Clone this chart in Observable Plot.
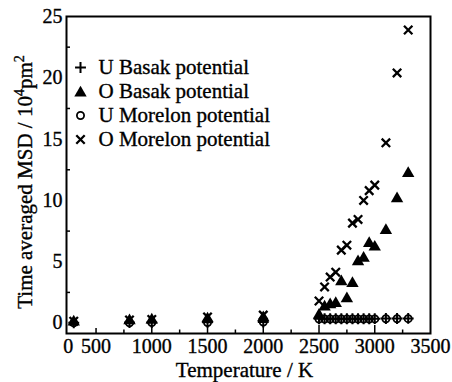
<!DOCTYPE html>
<html><head><meta charset="utf-8">
<script src="https://cdn.jsdelivr.net/npm/d3@7"></script>
<script src="https://cdn.jsdelivr.net/npm/@observablehq/plot@0.6"></script>
<style>body{margin:0;background:#fff} svg text{stroke:#000;stroke-width:0.35px}</style>
</head><body><div id="chart"></div>
<script>
const temperatures = [300, 800, 1000, 1500, 2000, 2500, 2550, 2600, 2650, 2700, 2750, 2800, 2850, 2900, 2950, 3000, 3100, 3200, 3300];
const uBasak   = [0.03, 0.04, 0.05, 0.06, 0.08, 0.35, 0.35, 0.35, 0.35, 0.35, 0.35, 0.35, 0.35, 0.35, 0.35, 0.36, 0.37, 0.37, 0.38];
const oBasak   = [0.1, 0.2, 0.25, 0.35, 0.45, 0.65, 1.32, 1.5, 1.6, 3.37, 2.0, 3.23, 5.0, 5.3, 6.5, 6.2, 7.55, 10.15, 12.2];
const uMorelon = [0.02, 0.03, 0.04, 0.05, 0.08, 0.33, 0.33, 0.33, 0.33, 0.33, 0.33, 0.33, 0.33, 0.33, 0.33, 0.34, 0.35, 0.35, 0.36];
const oMorelon = [0.15, 0.25, 0.3, 0.5, 0.65, 1.8, 2.95, 3.75, 4.15, 5.95, 6.35, 8.15, 8.45, 10.0, 10.8, 11.25, 14.7, 20.4, 23.9];

const seriesNames = ["U Basak potential", "O Basak potential", "U Morelon potential", "O Morelon potential"];
const seriesSymbols = ["plus", "triangle", "circle", "times"];
const seriesValues = [uBasak, oBasak, uMorelon, oMorelon];

const xTickValues = [250, 500, 1000, 1500, 2000, 2500, 3000, 3500];
const xTickLabels = ["0", "500", "1000", "1500", "2000", "2500", "3000", "3500"];
const xMajorTicks = [1000, 1500, 2000, 2500, 3000];
const xMinorTicks = [750, 1250, 1750, 2250, 2750, 3250];
const xMidTicks = [500];
const yTickValues = [0, 5, 10, 15, 20, 25];
const yMinorTicks = [2.5, 7.5, 12.5, 17.5, 22.5];

const xLabelMap = new Map(xTickValues.map((v, i) => [v, xTickLabels[i]]));

const table = seriesNames.flatMap((name, s) =>
  temperatures.map((T, i) => ({series: name, T, v: seriesValues[s][i]})));

const symStyle = {
  plus: {stroke: "black", fill: "none", r: 3.6, strokeWidth: 2},
  triangle: {fill: "black", stroke: "none", r: 4.6},
  circle: {stroke: "black", fill: "none", r: 3.6, strokeWidth: 1.8},
  times: {stroke: "black", fill: "none", r: 3.9, strokeWidth: 2.3}
};

const dataMarks = seriesNames.map((name, s) =>
  Plot.dot(table.filter(d => d.series === name), {x: "T", y: "v", symbol: seriesSymbols[s], ...symStyle[seriesSymbols[s]]}));

const legendMarks = seriesNames.flatMap((name, s) => [
  Plot.dot([name], {frameAnchor: "top-left", dx: 14, dy: 51 + 24 * s + (seriesSymbols[s] === "triangle" ? 1.4 : 0), symbol: seriesSymbols[s], ...symStyle[seriesSymbols[s]]}),
  Plot.text([name], {frameAnchor: "top-left", lineAnchor: "middle", text: d => d, dx: 32, dy: 51 + 24 * s, textAnchor: "start", fontSize: 21, fill: "black"})
]);

const chart = Plot.plot({
  width: 452, height: 382,
  marginLeft: 66, marginRight: 22, marginTop: 16, marginBottom: 49,
  x: {domain: [235, 3500]},
  y: {domain: [-0.85, 25]},
  style: {fontFamily: "'Liberation Serif', 'Times New Roman', serif", fontSize: "20px", background: "white", color: "black"},
  marks: [
    Plot.axisX(xTickValues, {tickSize: 0, tickPadding: 5, tickFormat: d => xLabelMap.get(d), label: null}),
    Plot.axisX([], {label: "Temperature / K", labelAnchor: "center", labelOffset: 43, labelArrow: "none"}),
    Plot.axisX(xMajorTicks, {tickSize: -8, tickFormat: () => "", label: null, strokeWidth: 1.5}),
    Plot.axisX(xMidTicks, {tickSize: -5, tickFormat: () => "", label: null, strokeWidth: 1.5}),
    Plot.axisX(xMinorTicks, {tickSize: -3.5, tickFormat: () => "", label: null, strokeWidth: 1.5}),
    Plot.axisY(yTickValues, {tickSize: 0, tickPadding: 4, label: null}),
    Plot.axisY([], {label: "Time averaged MSD / 10⁴pm²", labelAnchor: "center", labelOffset: 49, labelArrow: "none"}),
    Plot.axisY(yMinorTicks, {tickSize: -4, tickFormat: () => "", label: null, strokeWidth: 1.5}),
    ...dataMarks,
    ...legendMarks,
    Plot.frame({stroke: "black", strokeWidth: 2})
  ]
});
document.getElementById("chart").appendChild(chart);

// font sizes for axis texts
chart.querySelectorAll('[aria-label="x-axis tick label"], [aria-label="y-axis tick label"]').forEach(g => {
  g.setAttribute("font-size", "20");
  g.style.fontSize = "20px";
});
chart.querySelectorAll('[aria-label="x-axis label"], [aria-label="y-axis label"]').forEach(g => {
  g.setAttribute("font-size", "21");
  g.style.fontSize = "21px";
});
const xl = chart.querySelector('[aria-label="x-axis label"] text');
if (xl) xl.setAttribute("dx", -4);

// render superscripts in the y-axis title
const yl = chart.querySelector('[aria-label="y-axis label"] text');
if (yl) {
  yl.textContent = "";
  const parts = [["Time averaged MSD / 10", 0, null], ["4", -8, 14], ["pm", 8, null], ["2", -8, 14]];
  const ns = "http://www.w3.org/2000/svg";
  parts.forEach(([t, dy, fs], i) => {
    const ts = document.createElementNS(ns, "tspan");
    ts.textContent = t;
    if (i === 0) ts.setAttribute("dx", -7);
    if (dy) ts.setAttribute("dy", dy);
    if (fs) ts.setAttribute("font-size", fs);
    yl.appendChild(ts);
  });
}
</script>
</body></html>
